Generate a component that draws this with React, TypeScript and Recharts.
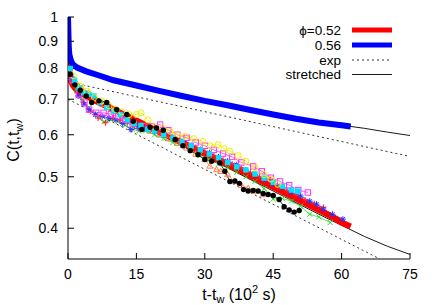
import { LineChart, Line, XAxis, YAxis } from "recharts"

const xTicks = [0, 15, 30, 45, 60, 75]
const yTicks = [0.4, 0.5, 0.6, 0.7, 0.8, 0.9, 1]

// thick curves
const redT = [0, 0.05, 0.15, 0.3, 0.6, 1, 1.5, 2.5, 4, 6, 8, 10, 13, 16, 20, 25, 30, 35, 40, 45, 50, 55, 58, 60, 62]
const redC = [1.0, 0.9, 0.83, 0.79, 0.76, 0.745, 0.735, 0.722, 0.71, 0.695, 0.682, 0.67, 0.65, 0.632, 0.607, 0.58, 0.553, 0.527, 0.502, 0.478, 0.455, 0.433, 0.42, 0.41, 0.403]
const blueT = [0, 0.05, 0.15, 0.3, 0.6, 1, 2, 4, 7, 10, 15, 20, 25, 30, 35, 40, 45, 50, 55, 60, 62]
const blueC = [1.0, 0.95, 0.88, 0.85, 0.83, 0.815, 0.803, 0.79, 0.775, 0.76, 0.743, 0.726, 0.71, 0.695, 0.682, 0.668, 0.655, 0.643, 0.633, 0.625, 0.622]

// fits
const exp56T = [0, 75]
const exp56C = [0.755, 0.546]
const exp52T = [0, 68.4]
const exp52C = [0.7, 0.35]
const str56T = [0, 1, 2, 4, 7, 10, 15, 20, 25, 30, 35, 40, 45, 50, 55, 60, 62, 65, 70, 75]
const str56C = [0.825, 0.812, 0.803, 0.79, 0.775, 0.76, 0.743, 0.726, 0.71, 0.695, 0.682, 0.668, 0.655, 0.643, 0.633, 0.625, 0.622, 0.617, 0.607, 0.598]
const str52T = [0, 2, 5, 10, 15, 20, 25, 30, 35, 40, 45, 50, 55, 60, 65, 70, 75]
const str52C = [0.76, 0.74, 0.715, 0.675, 0.64, 0.607, 0.576, 0.547, 0.52, 0.494, 0.47, 0.447, 0.425, 0.405, 0.386, 0.37, 0.357]

// individual runs
const blackT = [0.5, 1.5, 2.7, 4, 5.2, 6.8, 8.5, 10.7, 12.9, 14.3, 16.2, 18, 19.4, 20.9, 23.5, 25.2, 26.8, 28.5, 30, 31.5, 33.3, 34.4, 35.5, 36.6, 37.6, 38.5, 39.5, 40.6, 41.7, 42.8, 43.9, 45, 46.3, 47.4, 48.5, 49.6, 50.7]
const blackC = [0.78, 0.745, 0.728, 0.71, 0.69, 0.695, 0.69, 0.669, 0.655, 0.636, 0.614, 0.62, 0.618, 0.612, 0.588, 0.572, 0.56, 0.55, 0.539, 0.535, 0.531, 0.512, 0.49, 0.491, 0.486, 0.473, 0.47, 0.471, 0.47, 0.465, 0.463, 0.461, 0.453, 0.439, 0.433, 0.429, 0.432]
const orangeT = [0.6, 1.7, 3, 4.5, 6, 8, 10, 12, 14, 16, 18, 20, 22, 24, 26, 28, 30, 31.1, 32.6, 33.5, 35, 36.5, 38, 39.5, 41, 42.8]
const orangeC = [0.785, 0.755, 0.735, 0.72, 0.7, 0.685, 0.665, 0.65, 0.635, 0.622, 0.61, 0.6, 0.59, 0.578, 0.567, 0.552, 0.539, 0.524, 0.516, 0.512, 0.505, 0.49, 0.482, 0.476, 0.47, 0.463]
const greenT = [0.7, 1.8, 3.2, 4.6, 6.2, 7.9, 9.5, 11, 12.5, 14, 15.5, 17, 19, 21, 23, 25, 27, 29, 31, 33, 35, 37, 39, 41, 43, 45, 47, 49, 51, 53, 55, 57.5]
const greenC = [0.77, 0.73, 0.7, 0.675, 0.655, 0.635, 0.64, 0.635, 0.625, 0.615, 0.61, 0.61, 0.6, 0.59, 0.58, 0.572, 0.56, 0.55, 0.54, 0.528, 0.52, 0.51, 0.5, 0.49, 0.475, 0.454, 0.455, 0.45, 0.44, 0.425, 0.42, 0.41]
const plusT = [0.8, 2, 3.4, 5, 6.6, 8.2, 9.8, 11.4, 13, 14.6, 16.2, 18, 20, 22, 24, 26, 28, 30, 32, 34, 36, 38, 40, 42, 44.3, 46, 48, 50, 52, 54, 56]
const plusC = [0.77, 0.72, 0.69, 0.665, 0.645, 0.632, 0.645, 0.64, 0.632, 0.622, 0.618, 0.612, 0.605, 0.596, 0.587, 0.578, 0.567, 0.557, 0.548, 0.538, 0.528, 0.52, 0.51, 0.5, 0.494, 0.478, 0.47, 0.462, 0.452, 0.445, 0.438]
const starT = [0.9, 2.2, 3.5, 4.6, 6, 7.5, 9, 10.5, 12, 13.8, 15.5, 17.2, 19, 21, 23, 25, 27, 29, 31, 33, 35, 37, 39, 41, 43, 45, 47, 49, 51, 53, 54.5, 56, 58, 60.3]
const starC = [0.765, 0.71, 0.685, 0.669, 0.655, 0.65, 0.645, 0.64, 0.63, 0.614, 0.618, 0.615, 0.608, 0.6, 0.593, 0.583, 0.573, 0.563, 0.555, 0.545, 0.535, 0.527, 0.515, 0.505, 0.495, 0.485, 0.478, 0.468, 0.46, 0.45, 0.444, 0.435, 0.425, 0.416]
const magentaT = [1, 2.4, 3.6, 4.6, 6.2, 7.8, 9.4, 11, 12.6, 14.2, 16.7, 18.4, 20.2, 22, 24, 26, 28, 30, 32, 34, 36, 38, 40.6, 42.5, 44.5, 46.5, 48.5, 50.5, 52.6]
const magentaC = [0.76, 0.715, 0.69, 0.669, 0.66, 0.66, 0.656, 0.65, 0.64, 0.63, 0.622, 0.622, 0.627, 0.612, 0.6, 0.592, 0.58, 0.572, 0.562, 0.553, 0.545, 0.532, 0.523, 0.512, 0.498, 0.49, 0.482, 0.472, 0.467]
const cyanT = [0.5, 1.4, 2.4, 3.5, 4.6, 5.7, 7, 8.5, 10, 11.5, 13, 14.5, 16, 17.5, 19, 21, 23, 25, 27, 29, 31, 33, 35, 37, 39, 41, 43, 45, 47, 49, 50.4]
const cyanC = [0.8, 0.76, 0.735, 0.72, 0.715, 0.71, 0.69, 0.675, 0.665, 0.655, 0.64, 0.63, 0.625, 0.615, 0.61, 0.6, 0.592, 0.582, 0.572, 0.562, 0.552, 0.543, 0.532, 0.522, 0.515, 0.506, 0.497, 0.488, 0.48, 0.472, 0.47]
const yellowT = [1.2, 2.8, 4.2, 5.8, 7.4, 9, 10.4, 11.8, 13.4, 15, 16, 17.5, 19, 20.7, 22.4, 24, 25.7, 27.6, 29.6, 31.2, 32.9, 34.2, 35.5, 37.3, 39, 41, 43, 44.5, 46]
const yellowC = [0.775, 0.74, 0.725, 0.705, 0.695, 0.68, 0.67, 0.663, 0.655, 0.655, 0.66, 0.64, 0.622, 0.618, 0.609, 0.6, 0.596, 0.59, 0.583, 0.572, 0.575, 0.565, 0.559, 0.548, 0.535, 0.52, 0.505, 0.495, 0.484]

const pts = (t: number[], c: number[]) => t.map((x, i) => ({ t: x, c: c[i] }))

const font = "'Liberation Sans', Arial, sans-serif"

const marker = (kind: string, color: string) => (p: any) => {
  const { cx, cy, index } = p
  if (cx == null || cy == null) return <g key={index} />
  const k = `${kind}-${index}`
  switch (kind) {
    case "plus":
      return (
        <path key={k} d={`M${cx - 3},${cy}H${cx + 3}M${cx},${cy - 3}V${cy + 3}`} stroke={color} strokeWidth={1} />
      )
    case "cross":
      return (
        <path key={k} d={`M${cx - 2.5},${cy - 2.5}L${cx + 2.5},${cy + 2.5}M${cx - 2.5},${cy + 2.5}L${cx + 2.5},${cy - 2.5}`} stroke={color} strokeWidth={1} />
      )
    case "star":
      return (
        <path key={k} d={`M${cx - 3},${cy}H${cx + 3}M${cx},${cy - 3}V${cy + 3}M${cx - 2.2},${cy - 2.2}L${cx + 2.2},${cy + 2.2}M${cx - 2.2},${cy + 2.2}L${cx + 2.2},${cy - 2.2}`} stroke={color} strokeWidth={1} />
      )
    case "osquare":
      return <rect key={k} x={cx - 2.7} y={cy - 2.7} width={5.4} height={5.4} fill="none" stroke={color} strokeWidth={1} />
    case "fsquare":
      return <rect key={k} x={cx - 2.7} y={cy - 2.7} width={5.4} height={5.4} fill={color} />
    case "ocircle":
      return <circle key={k} cx={cx} cy={cy} r={3} fill="none" stroke={color} strokeWidth={1} />
    case "fcircle":
      return <circle key={k} cx={cx} cy={cy} r={2.7} fill={color} />
    default:
      return (
        <path key={k} d={`M${cx},${cy - 3}L${cx + 3},${cy + 2.2}L${cx - 3},${cy + 2.2}Z`} fill="none" stroke={color} strokeWidth={1} />
      )
  }
}

const runs = [
  { name: "orange", t: orangeT, c: orangeC, color: "#ff7f50", kind: "triangle" },
  { name: "green", t: greenT, c: greenC, color: "#22dd22", kind: "cross" },
  { name: "plus", t: plusT, c: plusC, color: "#ff2020", kind: "plus" },
  { name: "star", t: starT, c: starC, color: "#3030ff", kind: "star" },
  { name: "magenta", t: magentaT, c: magentaC, color: "#ff30ff", kind: "osquare" },
  { name: "cyan", t: cyanT, c: cyanC, color: "#00e0ff", kind: "fsquare" },
  { name: "yellow", t: yellowT, c: yellowC, color: "#f0f000", kind: "ocircle" },
  { name: "black", t: blackT, c: blackC, color: "#000000", kind: "fcircle" },
]

export default function App() {
  return (
    <div style={{ position: "absolute", left: 0, top: 0, width: 436, height: 305, fontFamily: font, background: "#fff" }}>
      <LineChart width={436} height={305} margin={{ top: 17, right: 26, bottom: 0, left: 0 }}>
        <XAxis
          type="number"
          dataKey="t"
          domain={[0, 75]}
          ticks={xTicks}
          allowDataOverflow
          height={46}
          tickSize={-6}
          tickMargin={16}
          tick={{ fill: "#000", fontSize: 14, fontFamily: font }}
          axisLine={{ stroke: "#000" }}
          tickLine={{ stroke: "#000" }}
        />
        <XAxis
          xAxisId="top"
          orientation="top"
          type="number"
          domain={[0, 75]}
          ticks={[15, 30, 45, 60]}
          height={0}
          tickSize={-6}
          tick={false}
          axisLine={{ stroke: "#000" }}
          tickLine={{ stroke: "#000" }}
        />
        <YAxis
          scale="log"
          dataKey="c"
          domain={[0.35, 1]}
          ticks={yTicks}
          allowDataOverflow
          width={68}
          tickSize={-6}
          tickMargin={16}
          tick={{ fill: "#000", fontSize: 14, fontFamily: font }}
          axisLine={{ stroke: "#000" }}
          tickLine={{ stroke: "#000" }}
        />
        <YAxis
          yAxisId="right"
          orientation="right"
          scale="log"
          domain={[0.35, 1]}
          ticks={[0.4, 0.5, 0.6, 0.7, 0.8, 0.9]}
          allowDataOverflow
          width={0}
          tickSize={-6}
          tick={false}
          axisLine={{ stroke: "#000" }}
          tickLine={{ stroke: "#000" }}
        />
        {runs.map((r) => (
          <Line
            key={r.name}
            data={pts(r.t, r.c)}
            dataKey="c"
            type="linear"
            stroke={r.color}
            strokeWidth={0.8}
            dot={marker(r.kind, r.color)}
            activeDot={false}
            isAnimationActive={false}
          />
        ))}
        <Line data={pts(exp56T, exp56C)} dataKey="c" stroke="#000" strokeWidth={0.8} strokeDasharray="2 3" dot={false} isAnimationActive={false} />
        <Line data={pts(exp52T, exp52C)} dataKey="c" stroke="#000" strokeWidth={0.8} strokeDasharray="2 3" dot={false} isAnimationActive={false} />
        <Line data={pts(str56T, str56C)} dataKey="c" stroke="#000" strokeWidth={0.9} dot={false} isAnimationActive={false} />
        <Line data={pts(str52T, str52C)} dataKey="c" stroke="#000" strokeWidth={0.9} dot={false} isAnimationActive={false} />
        <Line data={pts(redT, redC)} dataKey="c" stroke="#ff0000" strokeWidth={6} dot={false} isAnimationActive={false} />
        <Line data={pts(blueT, blueC)} dataKey="c" stroke="#0000ff" strokeWidth={6} dot={false} isAnimationActive={false} />
      </LineChart>
      <svg width={436} height={305} style={{ position: "absolute", left: 0, top: 0, pointerEvents: "none" }} fontFamily={font}>
        <g fontSize={13.5} textAnchor="end" fill="#000">
          <text x={341} y={35}>ϕ=0.52</text>
          <text x={341} y={50}>0.56</text>
          <text x={341} y={64.5}>exp</text>
          <text x={341} y={79}>stretched</text>
        </g>
        <line x1={352} x2={392} y1={30} y2={30} stroke="#ff0000" strokeWidth={5} />
        <line x1={352} x2={392} y1={45} y2={45} stroke="#0000ff" strokeWidth={5} />
        <line x1={352} x2={392} y1={60} y2={60} stroke="#000" strokeWidth={0.8} strokeDasharray="2 3" />
        <line x1={352} x2={392} y1={74.5} y2={74.5} stroke="#000" strokeWidth={0.9} />
        <text x={239} y={300} fontSize={16} textAnchor="middle" fill="#000">
          t-t<tspan fontSize={11} dy={3}>w</tspan>
          <tspan dy={-3}> (10</tspan>
          <tspan fontSize={11} dy={-7}>2</tspan>
          <tspan dy={7}> s)</tspan>
        </text>
        <text transform="translate(19,140) rotate(-90)" fontSize={16} textAnchor="middle" fill="#000">
          C(t,t<tspan fontSize={11} dy={4}>w</tspan>
          <tspan dy={-4}>)</tspan>
        </text>
      </svg>
    </div>
  )
}
